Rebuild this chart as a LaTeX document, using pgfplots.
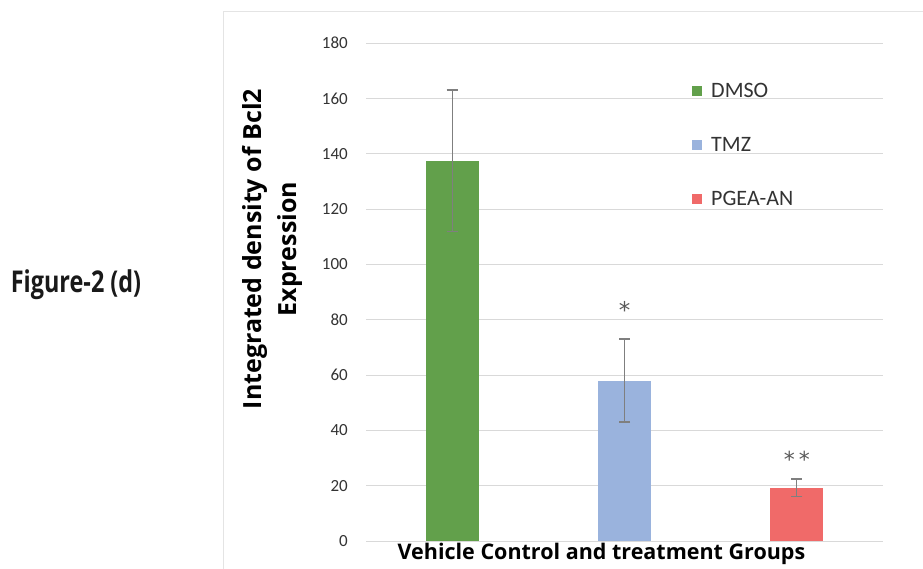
\documentclass[border=0pt]{standalone}
\usepackage{pgfplots}
\pgfplotsset{compat=1.18}
\usepackage{fontspec}
\setmainfont{Carlito}
\newfontfamily\figfont[FakeStretch=0.78]{Open Sans}
\newfontfamily\lblfont{Open Sans}
\newfontfamily\starfont{DejaVu Sans}
\definecolor{cgreen}{HTML}{62A04B}
\definecolor{cblue}{HTML}{9AB3DD}
\definecolor{cred}{HTML}{F06A69}
\definecolor{cgrid}{HTML}{D9D9D9}
\definecolor{cerr}{HTML}{7F7F7F}
\begin{document}
\begin{tikzpicture}
\path[use as bounding box] (0pt,0pt) rectangle (923pt,-569pt);
\draw[cgrid!70, line width=0.8pt] (223pt,-569pt) -- (223pt,-11pt) -- (923pt,-11pt);
\node[font=\figfont\bfseries\fontsize{30}{34}\selectfont, anchor=center, text=black!90] at (76pt,-285pt) {Figure-2 (d)};
\begin{axis}[
  at={(366pt,-541pt)}, anchor=south west,
  scale only axis, width=517pt, height=498pt,
  xmin=-0.5, xmax=2.5, ymin=0, ymax=180,
  xtick=\empty,
  ytick={0,20,...,180},
  /pgf/number format/assume math mode=true,
  ymajorgrids, grid style={cgrid, line width=0.9pt},
  axis line style={draw=none},
  major tick length=0pt,
  yticklabel style={font=\fontsize{17}{20}\selectfont, anchor=east, inner sep=0pt, xshift=-18pt, text=black!80},
  ylabel={Integrated density of Bcl2\\Expression},
  ylabel style={font=\lblfont\bfseries\fontsize{25}{35}\selectfont, align=center, at={(axis description cs:-0.1818,0.586)}, anchor=center},
  xlabel={Vehicle Control and treatment Groups},
  xlabel style={font=\lblfont\bfseries\fontsize{21.5}{26}\selectfont, at={(axis description cs:0.4555,-0.026)}, anchor=center},
  ybar, bar width=53pt,
  legend style={draw=none, fill=none, at={(axis description cs:0.6306,0.7952)}, anchor=west, inner sep=0pt, row sep=34pt, font=\fontsize{22}{24}\selectfont, text=black!80, nodes={inner sep=2pt}, /tikz/every odd column/.style={column sep=7pt}},
  legend cell align=left,
  legend image code/.code={\path[#1, draw=none] (0pt,-5pt) rectangle (10pt,5pt);},
  error bars/y dir=both, error bars/y explicit,
  error bars/error bar style={cerr, line width=1.2pt},
  error bars/error mark options={cerr, line width=1.2pt, mark size=5.5pt, rotate=90},
]
\addplot[fill=cgreen, draw=none, bar shift=0pt] coordinates {(0,137.5) +- (0,25.5)};
\addlegendentry{DMSO}
\addplot[fill=cblue, draw=none, bar shift=0pt] coordinates {(1,58) +- (0,15)};
\addlegendentry{TMZ}
\addplot[fill=cred, draw=none, bar shift=0pt] coordinates {(2,19.2) +- (0,3.2)};
\addlegendentry{PGEA-AN}
\node[font=\starfont\fontsize{23}{25}\selectfont, text=black!65] at (axis cs:1,83.5) {*};
\node[font=\starfont\fontsize{22}{25}\selectfont, text=black!65] at (axis cs:2,29.5) {*\hspace{4pt}*};
\end{axis}
\end{tikzpicture}
\end{document}
